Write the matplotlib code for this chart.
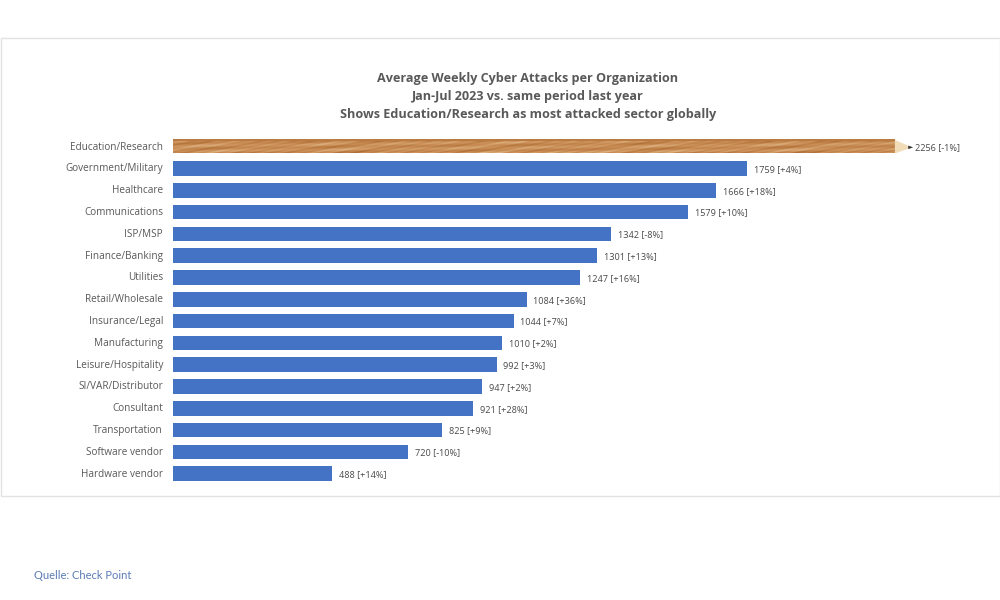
import numpy as np
import matplotlib
matplotlib.use("Agg")
import matplotlib.pyplot as plt
from matplotlib.patches import Polygon, Rectangle
from matplotlib.colors import LinearSegmentedColormap

plt.rcParams['font.family'] = ['Open Sans', 'DejaVu Sans']

sectors = ["Education/Research", "Government/Military", "Healthcare", "Communications",
	"ISP/MSP", "Finance/Banking", "Utilities", "Retail/Wholesale", "Insurance/Legal",
	"Manufacturing", "Leisure/Hospitality", "SI/VAR/Distributor", "Consultant",
	"Transportation", "Software vendor", "Hardware vendor"]
attacks = [2256, 1759, 1666, 1579, 1342, 1301, 1247, 1084, 1044, 1010, 992, 947, 921, 825, 720, 488]
changes = ["-1%", "+4%", "+18%", "+10%", "-8%", "+13%", "+16%", "+36%", "+7%", "+2%", "+3%", "+2%", "+28%", "+9%", "-10%", "+14%"]
title_lines = ["Average Weekly Cyber Attacks per Organization",
	"Jan-Jul 2023 vs. same period last year",
	"Shows Education/Research as most attacked sector globally"]
source = "Quelle: Check Point"

W, H = 1000, 600
fig = plt.figure(figsize=(W/100, H/100), dpi=100, facecolor="white")

#Outer frame of the pasted chart
fig.add_artist(Rectangle((0.5/W, 1-496/H), 999/W, 458/H, transform=fig.transFigure,
	facecolor="white", edgecolor="#e2e2e2", linewidth=1, zorder=-1))

#Axes placed so that one bar slot is 21.8 px and 1 attack is 0.3262 px
xmax = 827/0.3262
ax = fig.add_axes([173/W, 1-484.6/H, 827/W, 348.8/H])
ax.axis("off")

y = np.arange(len(sectors))
bar_h = 0.67
pencil_h = 0.62
pencil_end = attacks[0] - 43
tip_end = attacks[0] + 10

ax.barh(y[1:], attacks[1:], height=bar_h, color="#4472c4")

#Pencil bar for the top sector, the grain is only decoration
wood = LinearSegmentedColormap.from_list("wood", ["#ab6a30", "#cc9159", "#e8c69c"])
gx, gy = np.meshgrid(np.arange(722), np.arange(13))
grain = 0.45 + 0.12*np.sin(gy*1.3 + gx*0.013) + 0.2*np.sin(gx*0.09 + gy*0.9)*np.sin(gx*0.021 + 1.1) \
	+ 0.12*np.sin(gx*0.37 + gy*2.1)
grain[:2] = 0.22
ax.imshow(grain, cmap=wood, vmin=0, vmax=1, aspect="auto",
	extent=(0, pencil_end, pencil_h/2, -pencil_h/2), interpolation="bilinear", zorder=2)
ax.add_patch(Polygon([(pencil_end, -pencil_h/2), (pencil_end, pencil_h/2), (tip_end, 0.03)],
	closed=True, facecolor="#f2dcb8", edgecolor="none", zorder=2))
ax.add_patch(Polygon([(tip_end-12, -0.05), (tip_end-12, 0.11), (tip_end+3, 0.03)],
	closed=True, facecolor="#333333", edgecolor="none", zorder=3))

for i, name in enumerate(sectors):
	ax.text(-10/0.3262, i + 0.02, name, ha="right", va="center", fontsize=7.2, color="#595959", clip_on=False)
	off = 19 if i == 0 else 21
	ax.text(attacks[i] + off, i + 0.04, f"{attacks[i]} [{changes[i]}]", ha="left", va="center",
		fontsize=6.6, color="#4a4a4a")

ax.set_xlim(0, xmax)
ax.set_ylim(15.5, -0.5)

for i, line in enumerate(title_lines):
	fig.text(528/W, 1-(78.5 + 18.2*i)/H, line, ha="center", va="center", fontsize=9.1,
		fontweight="bold", color="#595959")

fig.text(34/W, 1-575.5/H, source, ha="left", va="center", fontsize=8, color="#5b7bb5",
	family=["Lato", "DejaVu Sans"])

fig.savefig("out.png", dpi=100)
